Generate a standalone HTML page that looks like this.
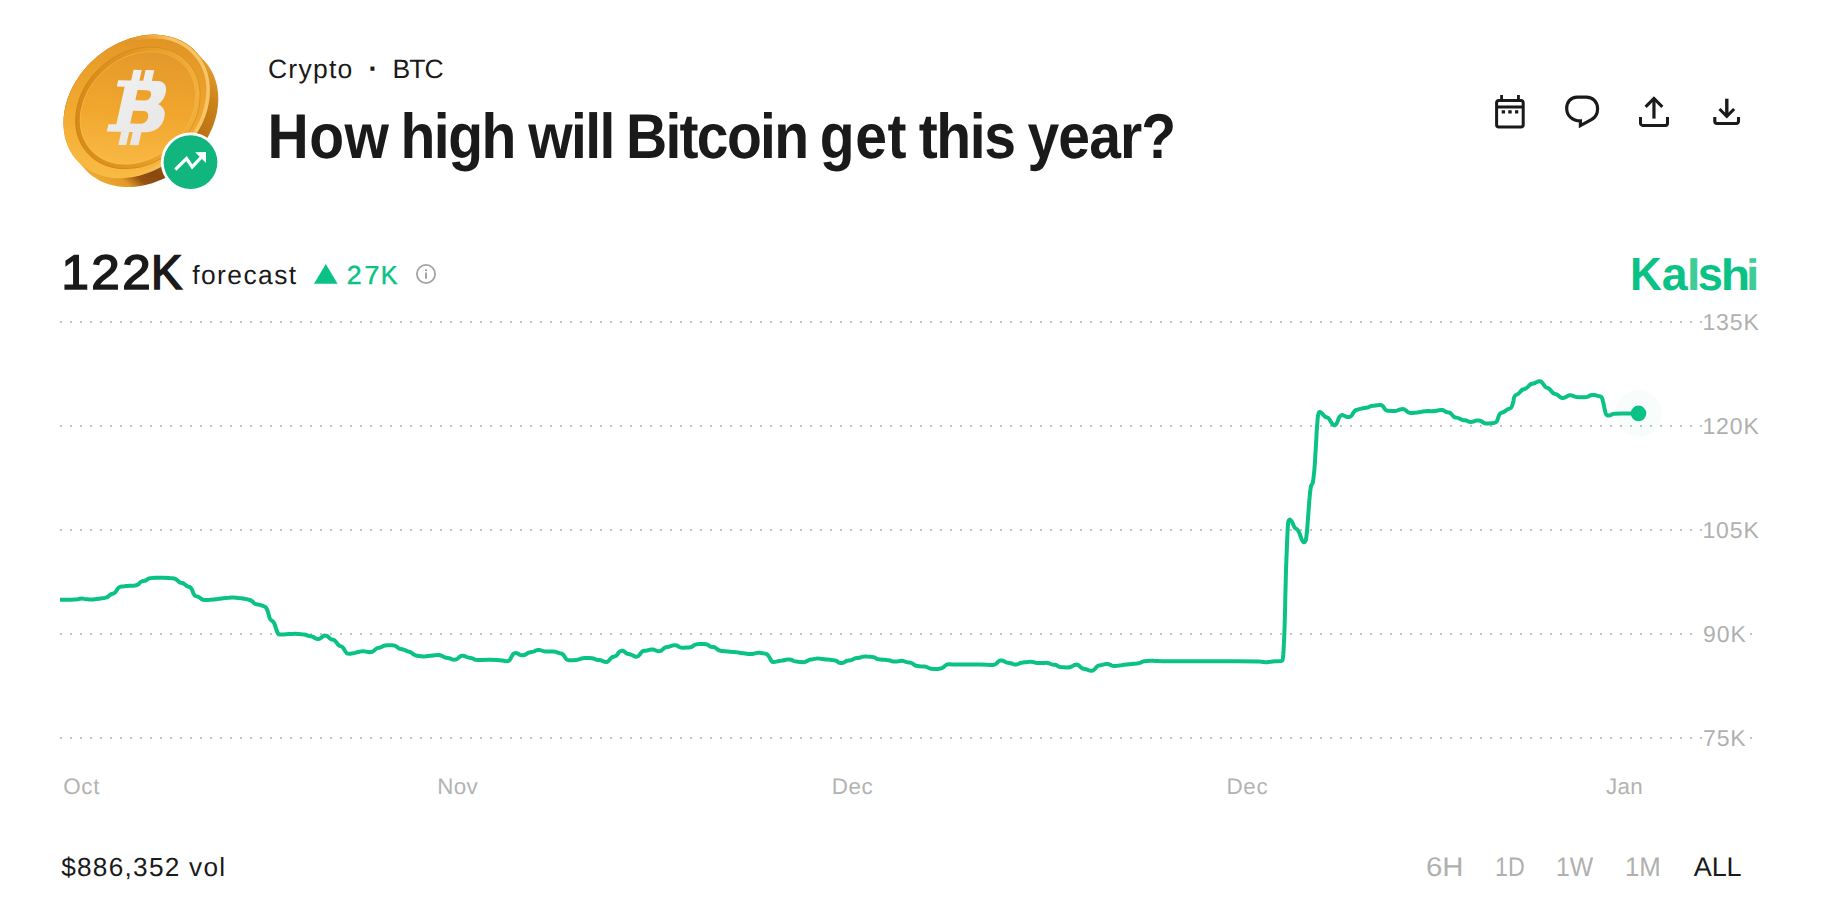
<!DOCTYPE html>
<html lang="en">
<head>
<meta charset="utf-8">
<title>How high will Bitcoin get this year?</title>
<style>
html,body{margin:0;padding:0;background:#fff;}
body{width:1822px;height:912px;position:relative;overflow:hidden;font-family:"Liberation Sans",sans-serif;color:#1a1a1a;}
.t{position:absolute;white-space:nowrap;line-height:1;text-rendering:geometricPrecision;}
svg{position:absolute;left:0;top:0;}
</style>
</head>
<body>
<svg id="chart" width="1822" height="912" viewBox="0 0 1822 912">
<g stroke="#c4c4c4" stroke-width="2" stroke-dasharray="2 8" fill="none">
<path d="M60 322H1702"/><path d="M60 426H1702"/><path d="M60 530H1702"/><path d="M60 634H1692M1750 634h2"/><path d="M60 738H1702M1750 738h2"/>
</g>
<circle cx="1638.5" cy="413.4" r="23.5" fill="#0ac285" opacity="0.028"/>
<path id="line" d="M60 599.7L70.6 599.7Q75.8 599.7 77.8 599.3L79.8 598.8Q81.8 598.4 84.5 598.9L87.4 599.3Q90.1 599.8 93.2 599.4L96.3 599.0Q99.4 598.6 101.9 598.2L104.6 597.9Q107.1 597.5 108.4 596.4L109.6 595.3Q110.9 594.2 112.4 593.8L113.8 593.3Q115.3 592.9 116.4 590.9L117.5 588.9Q118.6 586.9 121.3 586.5L124.1 586.2Q126.8 585.8 130.3 585.7L133.8 585.7Q137.3 585.6 138.6 584.2L139.8 582.8Q141.1 581.4 142.6 581.1L144.0 580.9Q145.5 580.6 147.0 579.7L148.4 578.7Q149.9 577.8 155.3 577.7L161.0 577.7Q166.4 577.6 169.5 578.0L172.6 578.3Q175.7 578.7 177.0 580.0L178.2 581.2Q179.5 582.5 180.8 582.8L182.1 583.0Q183.4 583.3 184.7 584.3L185.9 585.3Q187.2 586.3 188.5 586.7L189.8 587.0Q191.1 587.4 192.2 590.1L193.2 593.0Q194.3 595.7 195.8 596.1L197.2 596.4Q198.7 596.8 200.2 598.0L201.6 599.1Q203.1 600.3 206.6 600.0L210.1 599.8Q213.6 599.5 217.6 599.0L221.6 598.4Q225.6 597.9 228.9 597.8L232.2 597.6Q235.5 597.5 238.4 597.9L241.4 598.2Q244.3 598.6 246.5 599.1L248.8 599.7Q251 600.2 252.5 601.5L253.9 602.9Q255.4 604.2 256.7 604.3L257.9 604.5Q259.2 604.6 261.4 605.3L263.6 606.1Q265.8 606.8 266.5 608.4L267.3 610.1Q268 611.7 268.6 614.2L269.3 616.9Q269.9 619.4 271.3 620.3L272.6 621.2Q274 622.1 274.7 624.5L275.5 626.9Q276.2 629.3 276.9 631.1L277.7 633.0Q278.4 634.8 280.9 634.6L283.6 634.4Q286.1 634.2 289.0 634.0L292.0 633.9Q294.9 633.7 298.2 633.9L301.5 634.2Q304.8 634.4 305.9 634.9L307.0 635.4Q308.1 635.9 309.5 636.1L311.0 636.2Q312.4 636.4 313.9 637.3L315.3 638.3Q316.8 639.2 317.7 639.1L318.7 639.0Q319.6 638.9 321.1 637.8L322.5 636.6Q324 635.5 325.1 635.6L326.2 635.8Q327.3 635.9 328.4 637.0L329.5 638.1Q330.6 639.2 331.9 639.5L333.3 639.7Q334.6 640 336.0 641.9L337.4 643.8Q338.8 645.7 340.1 646.1L341.3 646.4Q342.6 646.8 343.9 649.0L345.2 651.2Q346.5 653.4 347.6 653.6L348.7 653.8Q349.8 654 352.3 653.4L355.0 652.9Q357.5 652.3 359.3 651.8L361.1 651.4Q362.9 650.9 364.9 651.4L367.0 651.8Q369 652.3 370.3 652.1L371.5 652.0Q372.8 651.8 374.1 650.6L375.4 649.4Q376.7 648.2 378.0 647.9L379.2 647.7Q380.5 647.4 382.0 646.7L383.4 645.9Q384.9 645.2 388.3 645.3L391.9 645.3Q395.3 645.4 396.6 646.5L397.9 647.7Q399.2 648.8 400.7 649.0L402.1 649.2Q403.6 649.4 404.7 650.0L405.8 650.6Q406.9 651.2 408.2 651.5L409.4 651.7Q410.7 652 412.2 653.2L413.6 654.4Q415.1 655.6 418.2 655.9L421.3 656.2Q424.4 656.5 426.2 656.3L428.2 656.0Q430 655.8 433.3 655.4L436.6 655.1Q439.9 654.7 441.5 655.7L443.2 656.6Q444.8 657.6 446.3 657.8L447.7 658.0Q449.2 658.2 450.7 658.7L452.1 659.3Q453.6 659.8 454.7 659.6L455.8 659.5Q456.9 659.3 458.2 658.1L459.4 657.0Q460.7 655.8 461.8 655.8L462.9 655.8Q464 655.8 465.3 656.4L466.6 657.0Q467.9 657.6 469.4 657.8L470.8 658.0Q472.3 658.2 473.4 658.8L474.5 659.4Q475.6 660 478.7 659.9L481.8 659.9Q484.9 659.8 487.8 659.8L490.8 659.8Q493.7 659.8 496.6 660.0L499.5 660.2Q502.4 660.4 504.0 660.8L505.8 661.1Q507.4 661.5 508.3 660.9L509.2 660.4Q510.1 659.8 511.0 657.8L512.0 655.8Q512.9 653.8 514.0 653.4L515.1 653.1Q516.2 652.7 517.7 653.5L519.1 654.4Q520.6 655.2 521.9 655.2L523.1 655.2Q524.4 655.2 525.9 654.3L527.3 653.3Q528.8 652.4 530.3 652.2L531.7 652.0Q533.2 651.8 534.5 651.2L535.7 650.5Q537 649.9 538.1 649.9L539.2 649.9Q540.3 649.9 541.6 650.5L542.9 651.0Q544.2 651.6 545.7 651.6L547.1 651.6Q548.6 651.6 550.6 651.5L552.6 651.4Q554.6 651.3 555.9 651.9L557.1 652.4Q558.4 653 559.9 653.3L561.3 653.5Q562.8 653.8 564.1 655.9L565.4 658.1Q566.7 660.2 568.3 660.3L570.0 660.3Q571.6 660.4 573.8 660.2L576.0 660.0Q578.2 659.8 579.7 659.2L581.1 658.6Q582.6 658 585.9 658.1L589.2 658.1Q592.5 658.2 594.0 658.7L595.4 659.3Q596.9 659.8 598.2 659.9L599.4 660.1Q600.7 660.2 602.2 660.8L603.6 661.4Q605.1 662 606.0 661.9L606.9 661.9Q607.8 661.8 609.1 660.2L610.4 658.7Q611.7 657.1 613.2 656.7L614.6 656.4Q616.1 656 617.4 654.4L618.6 652.6Q619.9 651 621.0 650.9L622.1 650.8Q623.2 650.7 624.5 651.7L625.7 652.8Q627 653.8 628.3 654.1L629.7 654.3Q631 654.6 632.5 655.3L633.9 656.1Q635.4 656.8 636.3 656.7L637.2 656.6Q638.1 656.5 639.6 654.7L641.0 652.8Q642.5 651 644.0 650.8L645.4 650.7Q646.9 650.5 648.4 650.1L649.8 649.8Q651.3 649.4 652.2 649.5L653.1 649.5Q654 649.6 655.3 650.2L656.6 650.8Q657.9 651.4 659.0 651.3L660.1 651.1Q661.2 651 662.5 649.7L663.7 648.5Q665 647.2 666.5 647.0L667.9 646.9Q669.4 646.7 670.7 646.2L671.9 645.7Q673.2 645.2 674.3 645.2L675.4 645.2Q676.5 645.2 677.8 646.0L679.1 646.9Q680.4 647.7 681.9 647.7L683.3 647.7Q684.8 647.7 687.0 647.6L689.2 647.5Q691.4 647.4 692.8 646.2L694.3 645.1Q695.7 643.9 699.3 643.9L703.1 643.9Q706.7 643.9 708.0 644.8L709.3 645.8Q710.6 646.7 712.1 646.9L713.5 647.0Q715 647.2 716.3 648.4L717.5 649.5Q718.8 650.7 721.7 651.0L724.7 651.3Q727.6 651.6 730.5 651.8L733.5 651.9Q736.4 652.1 737.9 652.4L739.3 652.7Q740.8 653 742.2 653.2L743.7 653.3Q745.1 653.5 746.8 653.7L748.5 653.9Q750.1 654.1 751.2 654.0L752.3 653.9Q753.4 653.8 754.7 653.4L755.9 653.1Q757.2 652.7 758.3 652.8L759.4 652.8Q760.5 652.9 762.7 653.3L764.9 653.6Q767.1 654 767.8 655.0L768.6 656.1Q769.3 657.1 770.2 658.7L771.1 660.4Q772 662 772.9 662.0L773.9 662.0Q774.8 662 776.3 661.6L777.7 661.3Q779.2 660.9 780.7 660.7L782.1 660.6Q783.6 660.4 784.9 660.0L786.1 659.7Q787.4 659.3 788.5 659.4L789.6 659.4Q790.7 659.5 792.0 660.1L793.2 660.7Q794.5 661.3 796.3 661.5L798.2 661.8Q800 662 801.5 662.1L802.9 662.3Q804.4 662.4 806.0 661.5L807.8 660.7Q809.4 659.8 810.7 659.6L811.9 659.5Q813.2 659.3 814.7 658.9L816.1 658.6Q817.6 658.2 819.8 658.6L822.1 659.0Q824.3 659.4 826.1 659.5L828.0 659.6Q829.8 659.7 831.8 660.0L833.8 660.2Q835.8 660.5 837.1 661.3L838.3 662.2Q839.6 663 840.7 663.0L841.8 663.0Q842.9 663 844.2 662.2L845.5 661.5Q846.8 660.7 848.3 660.6L849.7 660.4Q851.2 660.3 852.5 659.6L853.7 659.0Q855 658.3 856.5 658.1L857.9 658.0Q859.4 657.8 860.7 657.3L861.9 656.9Q863.2 656.4 866.7 656.6L870.2 656.7Q873.7 656.9 875.0 657.6L876.2 658.4Q877.5 659.1 879.1 659.3L880.8 659.4Q882.4 659.6 884.6 659.8L886.8 660.1Q889 660.3 890.5 660.7L891.9 661.2Q893.4 661.6 894.5 661.5L895.6 661.5Q896.7 661.4 898.5 661.2L900.4 660.9Q902.2 660.7 903.7 661.2L905.1 661.6Q906.6 662.1 908.2 662.4L909.9 662.6Q911.5 662.9 913.0 663.9L914.4 665.0Q915.9 666 917.5 666.1L919.2 666.2Q920.9 666.3 922.7 666.5L924.6 666.6Q926.4 666.8 927.8 667.5L929.3 668.2Q930.7 668.9 934.3 668.9L938.1 668.9Q941.7 668.9 943.4 667.3L945.1 665.6Q946.7 664 949.4 664.2L952.2 664.4Q954.9 664.6 959.6 664.6L964.5 664.6Q969.2 664.6 974.6 664.6L980.2 664.6Q985.6 664.6 987.4 664.8L989.3 664.9Q991.1 665.1 992.4 665.0L993.7 664.8Q995 664.7 996.5 663.4L997.9 662.0Q999.4 660.7 1000.5 660.6L1001.5 660.6Q1002.6 660.5 1004.1 661.2L1005.5 662.0Q1007 662.7 1008.1 662.8L1009.3 662.9Q1010.4 663 1011.9 663.5L1013.3 664.1Q1014.8 664.6 1015.7 664.5L1016.7 664.4Q1017.6 664.3 1018.9 663.7L1020.1 663.1Q1021.4 662.5 1023.0 662.4L1024.7 662.2Q1026.3 662.1 1028.0 661.9L1029.6 661.8Q1031.3 661.6 1033.5 662.1L1035.7 662.7Q1037.9 663.2 1041.1 663.0L1044.5 662.9Q1047.7 662.7 1049.2 663.3L1050.6 664.0Q1052.1 664.6 1053.4 664.7L1054.7 664.8Q1056 664.9 1057.3 665.7L1058.5 666.5Q1059.8 667.3 1063.3 667.3L1066.8 667.4Q1070.3 667.4 1071.7 666.5L1073.2 665.6Q1074.6 664.7 1075.7 664.7L1076.8 664.6Q1077.9 664.6 1079.4 666.0L1080.8 667.3Q1082.3 668.7 1083.6 668.8L1084.9 669.0Q1086.2 669.1 1087.5 669.7L1088.7 670.3Q1090 670.9 1091.1 670.8L1092.2 670.7Q1093.3 670.6 1094.8 669.0L1096.2 667.4Q1097.7 665.8 1099.0 665.6L1100.2 665.4Q1101.5 665.2 1102.8 664.7L1104.1 664.3Q1105.4 663.8 1106.5 663.9L1107.6 663.9Q1108.7 664 1110.2 664.7L1111.6 665.5Q1113.1 666.2 1114.2 666.1L1115.3 666.1Q1116.4 666 1118.9 665.6L1121.5 665.3Q1124 664.9 1126.5 664.6L1129.2 664.3Q1131.7 664 1134.2 663.7L1136.9 663.5Q1139.4 663.2 1140.9 662.5L1142.3 661.7Q1143.8 661 1147.1 660.9L1150.4 660.8Q1153.7 660.7 1155.5 660.9L1157.4 661.1Q1159.2 661.3 1172.7 661.3L1186.5 661.3Q1200 661.3 1218.4 661.3L1237.5 661.3Q1255.9 661.3 1257.7 661.4L1259.6 661.6Q1261.4 661.7 1263.2 661.9L1265.0 662.2Q1266.8 662.4 1268.6 662.0L1270.5 661.7Q1272.3 661.3 1275.2 661.3L1278.2 661.3Q1281.1 661.3 1281.7 660.9L1282.2 660.6Q1282.8 660.2 1283.0 657.3L1283.3 654.4Q1283.5 651.5 1283.8 645.7L1284.1 639.7Q1284.4 633.9 1284.6 626.7L1284.8 619.2Q1285 612 1285.2 604.7L1285.3 597.3Q1285.5 590 1285.7 582.3L1285.9 574.5Q1286.1 566.8 1286.4 559.6L1286.7 552.1Q1287 544.9 1287.2 539.1L1287.5 533.1Q1287.7 527.3 1287.9 525.1L1288.1 522.9Q1288.3 520.7 1288.8 520.3L1289.4 519.8Q1289.9 519.4 1290.6 520.2L1291.4 521.0Q1292.1 521.8 1292.9 523.8L1293.8 525.9Q1294.6 527.9 1295.6 528.4L1296.6 529.0Q1297.6 529.5 1298.3 531.0L1299.1 532.4Q1299.8 533.9 1300.5 536.1L1301.3 538.3Q1302 540.5 1302.7 541.2L1303.5 542.0Q1304.2 542.7 1304.8 542.0L1305.3 541.2Q1305.9 540.5 1306.3 537.6L1306.6 534.6Q1307 531.7 1307.4 527.0L1307.7 522.1Q1308.1 517.4 1308.4 512.7L1308.8 507.9Q1309.1 503.2 1309.3 500.5L1309.6 497.7Q1309.8 495 1310.2 492.1L1310.5 489.0Q1310.9 486.1 1311.6 484.8L1312.4 483.6Q1313.1 482.3 1313.6 477.1L1314.2 471.6Q1314.7 466.4 1315.1 460.2L1315.4 453.9Q1315.8 447.7 1316.2 441.2L1316.5 434.4Q1316.9 427.9 1317.3 423.6L1317.6 419.1Q1318 414.8 1318.4 413.9L1318.7 412.9Q1319.1 412 1319.8 412.1L1320.6 412.2Q1321.3 412.3 1322.6 413.9L1323.8 415.4Q1325.1 417 1326.2 417.2L1327.3 417.5Q1328.4 417.7 1329.7 419.8L1331.0 422.0Q1332.3 424.1 1333.0 424.6L1333.8 425.0Q1334.5 425.5 1335.2 424.9L1336.0 424.4Q1336.7 423.8 1337.6 421.4L1338.5 418.8Q1339.4 416.4 1340.3 415.9L1341.2 415.3Q1342.1 414.8 1343.8 415.5L1345.4 416.3Q1347.1 417 1348.4 417.0L1349.6 417.0Q1350.9 417 1352.2 414.8L1353.5 412.6Q1354.8 410.4 1356.1 410.0L1357.3 409.7Q1358.6 409.3 1360.1 408.9L1361.5 408.6Q1363 408.2 1364.5 408.0L1365.9 407.8Q1367.4 407.6 1368.7 407.1L1369.9 406.5Q1371.2 406 1372.7 405.8L1374.1 405.7Q1375.6 405.5 1377.2 405.2L1378.9 405.0Q1380.6 404.7 1381.3 405.1L1382.1 405.6Q1382.8 406 1383.9 407.5L1384.9 409.1Q1386 410.6 1387.3 410.7L1388.6 410.8Q1389.9 410.9 1391.9 411.0L1393.9 411.0Q1395.9 411.1 1397.4 410.5L1398.8 409.9Q1400.3 409.3 1401.6 409.2L1402.9 409.1Q1404.2 409 1405.6 410.2L1407.1 411.4Q1408.5 412.6 1409.6 412.8L1410.7 412.9Q1411.8 413.1 1414.3 412.8L1417.0 412.6Q1419.5 412.3 1421.2 411.9L1422.8 411.5Q1424.5 411.1 1427.9 411.1L1431.5 411.2Q1434.9 411.2 1436.7 410.7L1438.6 410.3Q1440.4 409.8 1441.3 409.9L1442.2 410.0Q1443.1 410.1 1444.2 410.7L1445.3 411.4Q1446.4 412 1447.7 412.3L1449.0 412.5Q1450.3 412.8 1451.6 414.3L1452.8 415.7Q1454.1 417.2 1455.4 417.4L1456.6 417.6Q1457.9 417.8 1459.4 418.5L1460.8 419.3Q1462.3 420 1463.6 420.2L1464.9 420.3Q1466.2 420.5 1467.5 421.0L1468.7 421.6Q1470 422.1 1471.1 421.9L1472.2 421.8Q1473.3 421.6 1474.6 421.2L1475.8 420.7Q1477.1 420.3 1478.2 420.4L1479.3 420.4Q1480.4 420.5 1481.9 421.5L1483.3 422.5Q1484.8 423.5 1486.1 423.5L1487.4 423.5Q1488.7 423.5 1491.0 423.2L1493.5 423.0Q1495.8 422.7 1496.3 421.9L1496.9 421.1Q1497.4 420.3 1498.1 418.0L1498.9 415.7Q1499.6 413.4 1501.1 412.9L1502.5 412.5Q1504 412 1505.1 411.1L1506.2 410.2Q1507.3 409.3 1508.6 408.9L1509.9 408.6Q1511.2 408.2 1511.7 406.7L1512.3 405.3Q1512.8 403.8 1513.4 401.1L1513.9 398.3Q1514.5 395.6 1515.8 395.0L1517.0 394.5Q1518.3 393.9 1519.6 392.5L1520.8 391.1Q1522.1 389.7 1523.6 389.3L1525.0 388.8Q1526.5 388.4 1527.8 387.0L1529.1 385.6Q1530.4 384.2 1531.9 383.8L1533.3 383.5Q1534.8 383.1 1535.9 382.5L1537.0 381.9Q1538.1 381.3 1539.0 381.3L1539.9 381.3Q1540.8 381.3 1541.5 382.0L1542.3 382.8Q1543 383.5 1543.7 384.7L1544.5 385.9Q1545.2 387.1 1546.5 387.5L1547.7 388.0Q1549 388.4 1550.5 390.1L1551.9 391.9Q1553.4 393.6 1554.7 393.9L1556.0 394.2Q1557.3 394.5 1558.6 395.7L1559.8 396.8Q1561.1 398 1562.0 398.0L1563.0 398.1Q1563.9 398.1 1565.5 397.2L1567.2 396.2Q1568.8 395.3 1569.7 395.3L1570.6 395.3Q1571.5 395.3 1573.2 395.9L1574.8 396.6Q1576.5 397.2 1579.8 397.3L1583.1 397.3Q1586.4 397.4 1587.8 396.7L1589.3 395.9Q1590.7 395.2 1592.0 395.1L1593.3 395.1Q1594.6 395 1595.7 395.3L1596.8 395.6Q1597.9 395.9 1599.2 396.2L1600.4 396.4Q1601.7 396.7 1602.3 398.7L1602.8 400.7Q1603.4 402.7 1604.1 406.3L1604.9 410.1Q1605.6 413.7 1606.1 414.3L1606.7 415.0Q1607.2 415.6 1608.1 415.6L1609.1 415.5Q1610 415.5 1611.3 414.8L1612.5 414.1Q1613.8 413.4 1622.0 413.4L1638.5 413.4" fill="none" stroke="#0ac285" stroke-width="4" stroke-linejoin="round" stroke-linecap="butt"/>
<circle cx="1638.5" cy="413.4" r="7.8" fill="#0ac285"/>
<g id="coin">
<defs>
<linearGradient id="gEdge" gradientUnits="userSpaceOnUse" x1="215" y1="60" x2="100" y2="190">
<stop offset="0" stop-color="#e9a233"/><stop offset="0.2" stop-color="#c98118"/><stop offset="0.4" stop-color="#ba7013"/><stop offset="0.6" stop-color="#a45f12"/><stop offset="0.72" stop-color="#8a4810"/><stop offset="0.8" stop-color="#96520f"/><stop offset="0.87" stop-color="#e39a28"/><stop offset="1" stop-color="#f2ae38"/>
</linearGradient>
<linearGradient id="gFace" gradientUnits="userSpaceOnUse" x1="75" y1="155" x2="205" y2="55">
<stop offset="0" stop-color="#f9bc46"/><stop offset="0.4" stop-color="#f2a92f"/><stop offset="0.75" stop-color="#e89c28"/><stop offset="1" stop-color="#dd9024"/>
</linearGradient>
<linearGradient id="gDisc" gradientUnits="userSpaceOnUse" x1="85" y1="155" x2="190" y2="60">
<stop offset="0" stop-color="#fabd4a"/><stop offset="0.45" stop-color="#f1a72e"/><stop offset="1" stop-color="#e1952a"/>
</linearGradient>
<linearGradient id="gCham" gradientUnits="userSpaceOnUse" x1="90" y1="60" x2="185" y2="150">
<stop offset="0" stop-color="#f6c05a" stop-opacity="0"/><stop offset="0.45" stop-color="#f6c05a" stop-opacity="0"/><stop offset="0.75" stop-color="#f7c466" stop-opacity="0.95"/><stop offset="1" stop-color="#f7c466"/>
</linearGradient>
<linearGradient id="gGroove" gradientUnits="userSpaceOnUse" x1="90" y1="60" x2="185" y2="150">
<stop offset="0" stop-color="#d58818"/><stop offset="0.5" stop-color="#e39722"/><stop offset="1" stop-color="#f4b13c"/>
</linearGradient>
<linearGradient id="gB" gradientUnits="userSpaceOnUse" x1="0" y1="-10" x2="50" y2="64">
<stop offset="0" stop-color="#f1f1f1"/><stop offset="1" stop-color="#e6e6e6"/>
</linearGradient>
</defs>
<path d="M204.5 61.1L206.7 63.6L208.7 66.3L210.5 69.1L212.1 72.0L213.6 75.1L214.8 78.2L215.9 81.5L216.8 84.9L217.4 88.3L217.9 91.8L218.2 95.4L218.3 99.1L218.2 102.7L217.8 106.5L217.3 110.2L216.6 114.0L215.7 117.7L214.6 121.5L213.3 125.2L211.8 128.9L210.1 132.6L208.3 136.2L206.2 139.8L204.0 143.3L201.7 146.7L199.2 150.0L196.5 153.3L193.7 156.4L190.8 159.4L187.7 162.3L184.5 165.1L181.2 167.8L177.9 170.2L174.4 172.6L170.8 174.8L167.2 176.8L163.5 178.7L159.8 180.3L156.0 181.8L152.2 183.2L148.3 184.3L144.5 185.2L140.6 186.0L136.8 186.6L133.0 186.9L129.2 187.1L125.5 187.1L121.8 186.8L118.2 186.4L114.7 185.8L111.2 185.0L107.8 184.0L104.6 182.8L101.4 181.4L98.4 179.9L95.5 178.1L92.7 176.2L90.1 174.2L87.6 171.9L85.3 169.5L77.2 160.6L75.0 158.1L73.0 155.4L71.2 152.6L69.6 149.7L68.1 146.6L66.9 143.5L65.8 140.2L64.9 136.8L64.3 133.4L63.8 129.9L63.5 126.3L63.4 122.6L63.5 119.0L63.9 115.2L64.4 111.5L65.1 107.7L66.0 104.0L67.1 100.2L68.4 96.5L69.9 92.8L71.6 89.1L73.4 85.5L75.5 81.9L77.7 78.4L80.0 75.0L82.5 71.7L85.2 68.4L88.0 65.3L90.9 62.3L94.0 59.4L97.2 56.6L100.5 53.9L103.8 51.5L107.3 49.1L110.9 46.9L114.5 44.9L118.2 43.0L121.9 41.4L125.7 39.9L129.5 38.5L133.4 37.4L137.2 36.5L141.1 35.7L144.9 35.1L148.7 34.8L152.5 34.6L156.2 34.6L159.9 34.9L163.5 35.3L167.0 35.9L170.5 36.7L173.9 37.7L177.1 38.9L180.3 40.3L183.3 41.8L186.2 43.6L189.0 45.5L191.6 47.5L194.1 49.8L196.4 52.2Z" fill="url(#gEdge)"/>
<ellipse cx="136.8" cy="106.4" rx="80.6" ry="63.6" transform="rotate(-42.3 136.8 106.4)" fill="url(#gFace)" />
<ellipse cx="136.8" cy="106.4" rx="78.3" ry="61.8" transform="rotate(-42.3 136.8 106.4)" fill="none" stroke="url(#gCham)" stroke-width="3.6"/>
<ellipse cx="137.85" cy="107.87" rx="65.4" ry="52.8" transform="rotate(-41.8 137.85 107.87)" fill="none" stroke="url(#gGroove)" stroke-width="4.6"/>
<ellipse cx="137.85" cy="107.87" rx="67.7" ry="55.1" transform="rotate(-41.8 137.85 107.87)" fill="none" stroke="#c97c12" stroke-width="0.9" opacity="0.55"/>
<ellipse cx="137.85" cy="107.87" rx="63" ry="50.4" transform="rotate(-41.8 137.85 107.87)" fill="url(#gDisc)" stroke="#f8c052" stroke-width="0.9" stroke-opacity="0.5"/>
<g transform="matrix(1 0.02 -0.2217 1 118.2 80.2)" fill="url(#gB)">
<path fill-rule="evenodd" d="M0 0H39C47 0 50.1 5.5 50.1 11.5C50.1 16.5 48.3 20.6 45.1 23.2C51 25.5 54.2 30 54.2 36C54.2 46 48 51.3 38 51.3H0V44H7.9V6.4H0ZM21.5 9.4H30.5C34.5 9.4 36 12 36 14.5C36 17.5 34 19.7 30 19.7H21.5ZM21.5 30.1H32C36 30.1 38 33 38 36.5C38 40 36 42.9 31 42.9H21.5Z"/>
<path d="M13 -10.7h8.2V0.5h-8.2zM25 -10.7h8.7V0.5h-8.7zM14.4 51h7.9v13.4h-7.9zM25.9 51h8.7v13.4h-8.7z"/>
</g>
<circle cx="190.5" cy="162.2" r="29.7" fill="#fff"/>
<circle cx="190.5" cy="162.2" r="26.9" fill="#10b67e"/>
<path d="M175.3 169.6L186.5 158.5L192.2 166.9L202.5 156" fill="none" stroke="#fff" stroke-width="3.2"/>
<path d="M195.2 152.2L206 151.9L206 162.9Z" fill="#fff"/>
</g>
<g id="icons" fill="none" stroke="#1a1a1a" stroke-width="3.1">
<rect x="1496.6" y="100.5" width="26.6" height="26.6" rx="2.3" stroke-width="3"/>
<path d="M1501.6 95.1V100.4M1518.45 95.1V100.4M1496.6 107H1523.2" stroke-width="2.8"/>
<path d="M1501.7 110.2h3.3v3.4h-3.3zM1508.3 110.2h3.4v3.4h-3.4zM1515 110.2h3.3v3.4h-3.3z" fill="#1a1a1a" stroke="none"/>
<path d="M1580.4 120.9V125.6L1591.8 119.4C1595.8 117 1597.6 113.2 1597.6 108.7C1597.6 101.8 1592.8 97.1 1586.3 97.1H1577.2C1570.6 97.1 1566.7 102 1566.7 108.4C1566.7 115.6 1572.4 120.9 1580.4 120.9Z" stroke-width="3.2" stroke-miterlimit="10"/>
<path d="M1645.6 106.8L1653.95 98.5L1662.3 106.8"/>
<path d="M1653.95 98.5V118.6" stroke-width="3.2"/>
<path d="M1640.5 116.95V123.2a2.2 2.2 0 0 0 2.2 2.2H1665.3a2.2 2.2 0 0 0 2.2 -2.2V116.95" stroke-width="3"/>
<path d="M1719.5 109L1726.8 116.3L1734.15 109"/>
<path d="M1726.8 98.7V116.3" stroke-width="3.4"/>
<path d="M1714.8 117.05V121.3a2.2 2.2 0 0 0 2.2 2.2H1736.3a2.2 2.2 0 0 0 2.2 -2.2V117.05" stroke-width="3.1"/>
</g>
<path d="M325.8 264.1L337.6 283.8H314Z" fill="#0ac285"/>
<circle cx="426" cy="274" r="9.1" fill="none" stroke="#a3a3a3" stroke-width="1.8"/>
<path d="M426 272.6V278.8" stroke="#8c8c8c" stroke-width="1.6" fill="none"/><circle cx="426" cy="270.2" r="1" fill="#8c8c8c"/>
</svg>
<!--TEXT-->
<div class="t" style="left:267.90px;top:56.00px;font-size:26.5px;letter-spacing:1.27px;">Crypto</div>
<div class="t" style="left:368.60px;top:55.00px;font-size:28px;font-weight:700;">·</div>
<div class="t" style="left:392.61px;top:56.00px;font-size:26.5px;letter-spacing:-0.98px;">BTC</div>
<div class="t" id="title" style="left:0px;top:106.00px;font-size:63.4px;font-weight:700;"><span style="display:inline-block;letter-spacing:0.52px;transform-origin:0 52.0px;transform:translateX(267.59px) scale(0.9000,1);">How</span> <span style="display:inline-block;letter-spacing:-1.61px;transform-origin:0 52.0px;transform:translateX(247.40px) scale(0.9000,1);">high</span> <span style="display:inline-block;letter-spacing:-1.79px;transform-origin:0 52.0px;transform:translateX(230.33px) scale(0.9000,1);">will</span> <span style="display:inline-block;letter-spacing:-1.88px;transform-origin:0 52.0px;transform:translateX(214.89px) scale(0.9000,1);">Bitcoin</span> <span style="display:inline-block;letter-spacing:0.72px;transform-origin:0 52.0px;transform:translateX(189.63px) scale(0.9000,1);">get</span> <span style="display:inline-block;letter-spacing:-1.58px;transform-origin:0 52.0px;transform:translateX(173.79px) scale(0.9000,1);">this</span> <span style="display:inline-block;letter-spacing:-1.00px;transform-origin:0 52.0px;transform:translateX(158.53px) scale(0.9000,1);">year?</span></div>
<div class="t" id="big" style="left:0px;top:249.00px;font-size:48.5px;font-weight:400;-webkit-text-stroke:1.6px #1a1a1a;"><span style="display:inline-block;transform-origin:0 40.0px;transform:translateX(61.42px) scale(1.0140,1);">1</span><span style="display:inline-block;transform-origin:0 40.0px;transform:translateX(64.23px) scale(1.0546,1);">2</span><span style="display:inline-block;transform-origin:0 40.0px;transform:translateX(68.27px) scale(1.0542,1);">2</span><span style="display:inline-block;transform-origin:0 40.0px;transform:translateX(69.90px) scale(0.9647,1);">K</span></div>
<div class="t" style="left:192.21px;top:262.00px;font-size:26.4px;letter-spacing:1.43px;">forecast</div>
<div class="t" id="delta" style="left:0px;top:262.00px;font-size:26px;font-weight:400;color:#0ac285;-webkit-text-stroke:0.45px #0ac285;"><span style="display:inline-block;transform-origin:0 22.0px;transform:translateX(346.87px) scale(1.0291,1);">2</span><span style="display:inline-block;transform-origin:0 22.0px;transform:translateX(350.53px) scale(1.0297,1);">7</span><span style="display:inline-block;transform-origin:0 22.0px;transform:translateX(351.77px) scale(0.9613,1);">K</span></div>
<div class="t" id="kalshi" style="left:0px;top:251.00px;font-size:46.4px;font-weight:700;color:#0ac285;"><span style="display:inline-block;transform-origin:0 39.0px;transform:translateX(1630.05px) scale(0.9479,1);">K</span><span style="display:inline-block;transform-origin:0 39.0px;transform:translateX(1627.80px) scale(1.0017,1);">a</span><span style="display:inline-block;color:#3fcc99;transform-origin:0 39.0px;transform:translateX(1627.64px) scale(1.0753,0.9465);">l</span><span style="display:inline-block;transform-origin:0 39.0px;transform:translateX(1625.65px) scale(0.9742,1);">s</span><span style="display:inline-block;transform-origin:0 39.0px;transform:translateX(1622.79px) scale(1.0387,0.9465);">h</span><span style="display:inline-block;color:#3fcc99;transform-origin:0 39.0px;transform:translateX(1620.04px) scale(1.0377,0.9465);">i</span></div>
<div class="t" style="left:1702.45px;top:311.00px;font-size:23.0px;letter-spacing:0.89px;color:#b0b0b0;">135K</div>
<div class="t" style="left:1702.45px;top:415.00px;font-size:23.0px;letter-spacing:0.89px;color:#b0b0b0;">120K</div>
<div class="t" style="left:1702.45px;top:519.00px;font-size:23.0px;letter-spacing:0.89px;color:#b0b0b0;">105K</div>
<div class="t" style="left:1703.05px;top:623.00px;font-size:23.0px;letter-spacing:0.89px;color:#b0b0b0;">90K</div>
<div class="t" style="left:1703.01px;top:727.00px;font-size:23.0px;letter-spacing:0.89px;color:#b0b0b0;">75K</div>
<div class="t" style="left:63.19px;top:776.00px;font-size:22.4px;letter-spacing:0.75px;color:#b3b3b3;">Oct</div>
<div class="t" style="left:437.16px;top:776.00px;font-size:22.4px;letter-spacing:0.39px;color:#b3b3b3;">Nov</div>
<div class="t" style="left:831.76px;top:776.00px;font-size:22.4px;letter-spacing:0.62px;color:#b3b3b3;">Dec</div>
<div class="t" style="left:1226.56px;top:776.00px;font-size:22.4px;letter-spacing:0.62px;color:#b3b3b3;">Dec</div>
<div class="t" style="left:1605.94px;top:776.00px;font-size:22.4px;letter-spacing:0.28px;color:#b3b3b3;">Jan</div>
<div class="t" style="left:61.18px;top:854.00px;font-size:26.2px;letter-spacing:1.27px;">$886,352 vol</div>
<div class="t" style="left:1426.16px;top:854.00px;font-size:27px;color:#b0b0b0;transform-origin:0 0;transform:scaleX(1.0883);">6H</div>
<div class="t" style="left:1494.73px;top:854.00px;font-size:27px;color:#b0b0b0;transform-origin:0 0;transform:scaleX(0.8587);">1D</div>
<div class="t" style="left:1555.91px;top:854.00px;font-size:27px;color:#b0b0b0;transform-origin:0 0;transform:scaleX(0.9192);">1W</div>
<div class="t" style="left:1625.40px;top:854.00px;font-size:27px;color:#b0b0b0;transform-origin:0 0;transform:scaleX(0.9548);">1M</div>
<div class="t" style="left:1693.73px;top:854.00px;font-size:27px;letter-spacing:-0.10px;">ALL</div>
<!--/TEXT-->
</body>
</html>
